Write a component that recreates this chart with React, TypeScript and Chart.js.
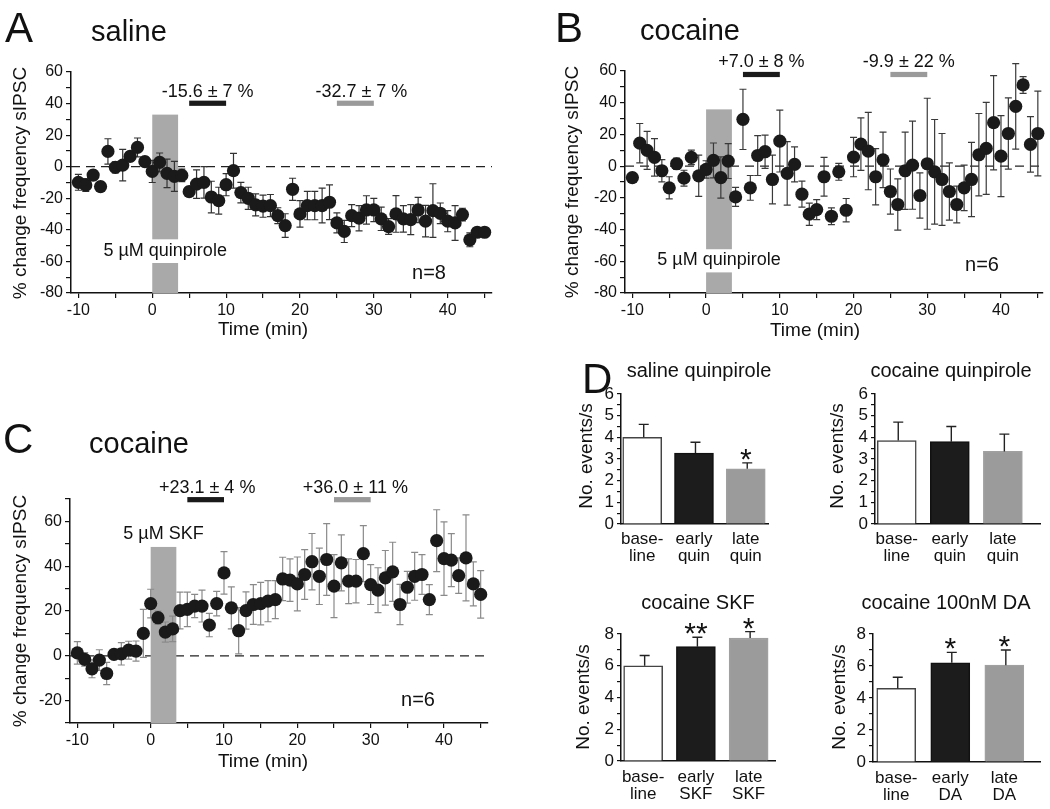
import React, { useEffect, useRef } from 'react';
import { Chart, registerables } from 'chart.js';

Chart.register(...registerables);

const FONT = '"Liberation Sans", Arial, Helvetica, sans-serif';
Chart.defaults.font.family = FONT;
Chart.defaults.color = '#111';

// ---------------- data ----------------
const minutes = [-10, -9, -8, -7, -6, -5, -4, -3, -2, -1, 0, 1, 2, 3, 4, 5, 6, 7, 8, 9, 10, 11, 12, 13, 14, 15, 16, 17, 18, 19, 20, 21, 22, 23, 24, 25, 26, 27, 28, 29, 30, 31, 32, 33, 34, 35, 36, 37, 38, 39, 40, 41, 42, 43, 44, 45];

const salineQuin = [-9.9, -11.6, -5.3, -12.6, 9.7, -0.4, 1.0, 6.5, 12.2, 3.2, -3.0, 2.7, -4.2, -6.1, -5.5, -15.8, -11.0, -9.9, -19.2, -21.5, -11.4, -2.5, -16.4, -20.0, -24.2, -25.0, -24.6, -31.0, -37.3, -14.3, -29.9, -24.6, -24.6, -24.6, -22.5, -35.6, -41.0, -31.0, -32.6, -27.4, -27.4, -33.0, -37.9, -29.9, -33.0, -33.5, -27.4, -34.5, -27.8, -29.5, -34.5, -35.6, -30.3, -46.3, -41.5, -41.5];
const salineQuinSem = [5, 4, 3, 3, 8, 3.5, 10, 3, 6, 3, 7, 6, 9, 9.5, 4, 3, 9, 10, 10, 8.5, 7, 11, 6.5, 7, 7, 7, 7, 5, 7.5, 7, 8.4, 9, 9, 11, 11, 6.3, 7, 7, 8, 9, 7.4, 7.4, 5, 11.6, 8.4, 9.5, 8, 10, 17, 6.5, 6.7, 11, 4, 4.4, 2.5, 2.5];

const cocaineQuin = [-7.2, 14.5, 9.9, 5.5, -2.9, -13.7, 1.5, -7.6, 5.5, -6.1, -2.1, 3.6, -7.2, 3.2, -19.4, 29.5, -13.7, 6.7, 9.1, -8.4, 15.8, -4.6, 1.1, -17.7, -30.3, -27.4, -6.7, -31.6, -3.6, -27.8, 5.7, 13.9, 9.5, -6.7, 4.0, -16.0, -24.2, -2.9, 0.6, -18.5, 1.5, -3.6, -8.4, -16.0, -24.2, -13.7, -8.4, 7.2, 11.2, 27.4, 6.3, 20.6, 37.7, 51.2, 13.7, 20.6];
const cocaineQuinSem = [3, 12.4, 12, 11.8, 7, 7, 3.6, 5, 4.6, 13, 5.5, 11, 13, 11, 6, 19, 7.8, 12.6, 10.5, 15.4, 19.5, 20, 11, 8.2, 7, 6.3, 12.2, 5.3, 5.3, 7.4, 12.4, 16.6, 24.4, 17.7, 17.5, 14.2, 16.2, 24.4, 27.8, 14.3, 41.3, 33, 29, 18, 11.6, 14.3, 23.4, 26, 29, 29.7, 25.5, 22.5, 27, 5.3, 17.5, 26.7];

const cocaineSkf = [1.3, -1.6, -5.8, -1.9, -7.9, 0.6, 0.9, 2.5, 2.1, 10.0, 23.3, 17.0, 10.6, 12.0, 20.2, 20.7, 22.2, 22.2, 13.7, 23.3, 37.0, 21.4, 11.2, 20.2, 22.9, 23.3, 24.4, 25.1, 34.3, 33.8, 32.1, 36.3, 42.0, 35.5, 43.0, 31.1, 41.5, 33.3, 33.3, 45.6, 31.8, 29.3, 34.8, 37.5, 22.9, 30.6, 35.5, 36.3, 25.1, 51.4, 43.4, 42.7, 35.8, 43.7, 32.1, 27.4];
const cocaineSkfSem = [5, 3, 4, 4.6, 5, 2, 5, 4, 4.5, 10.7, 6.4, 3, 4.5, 5.7, 8.2, 7.7, 5.2, 7.1, 5.2, 5.5, 9.5, 9.4, 10.3, 8.3, 8.9, 9.5, 9.2, 8.5, 9.7, 9.5, 12, 11.1, 12.6, 12.6, 16, 14.1, 12.5, 10, 9.7, 12.5, 8.9, 10, 12.2, 13.2, 9, 7.1, 10.7, 8.9, 6.7, 13.8, 16.4, 11.8, 7.9, 19.2, 9.8, 10.6];

const timeTicks = [-10, -5, 0, 5, 10, 15, 20, 25, 30, 35, 40, 45];
const pctTicksAB = [-80, -70, -60, -50, -40, -30, -20, -10, 0, 10, 20, 30, 40, 50, 60];
const pctTicksC = [-30, -20, -10, 0, 10, 20, 30, 40, 50, 60, 70];

const quinLabels = [['base-', 'line'], ['early', 'quin'], ['late', 'quin']];
const skfLabels = [['base-', 'line'], ['early', 'SKF'], ['late', 'SKF']];
const daLabels = [['base-', 'line'], ['early', 'DA'], ['late', 'DA']];

const salineQuinBars = [4.0, 3.27, 2.55];
const salineQuinBarsSem = [0.6, 0.5, 0.27];
const salineQuinSig = ['', '', '*'];
const cocaineQuinBars = [3.85, 3.8, 3.35];
const cocaineQuinBarsSem = [0.85, 0.7, 0.8];
const cocaineQuinSig = ['', '', ''];
const cocaineSkfBars = [6.0, 7.2, 7.75];
const cocaineSkfBarsSem = [0.65, 0.6, 0.4];
const cocaineSkfSig = ['', '**', '*'];
const cocaineDaBars = [4.6, 6.2, 6.05];
const cocaineDaBarsSem = [0.7, 0.65, 0.95];
const cocaineDaSig = ['', '*', '*'];

const barTicks6 = [0, 0.5, 1, 1.5, 2, 2.5, 3, 3.5, 4, 4.5, 5, 5.5, 6];
const barTicks8 = [0, 1, 2, 3, 4, 5, 6, 7, 8];

// ---------------- helpers ----------------
type Box = { left: number; top: number; width: number; height: number };
type Area = { left: number; top: number; right: number; bottom: number };
type Txt = { t: string; x: number; y: number; size: number; align?: CanvasTextAlign; base?: CanvasTextBaseline; rot?: boolean };

function drawTexts(ctx: CanvasRenderingContext2D, texts: Txt[], box: Box) {
  ctx.save();
  ctx.fillStyle = '#111';
  for (const tx of texts) {
    ctx.font = `${tx.size}px ${FONT}`;
    ctx.textAlign = tx.align || 'center';
    ctx.textBaseline = tx.base || 'middle';
    const x = tx.x - box.left;
    const y = tx.y - box.top;
    if (tx.rot) {
      ctx.save();
      ctx.translate(x, y);
      ctx.rotate(-Math.PI / 2);
      ctx.fillText(tx.t, 0, 0);
      ctx.restore();
    } else {
      ctx.fillText(tx.t, x, y);
    }
  }
  ctx.restore();
}

type Period = { x0: number; x1: number; y: number; color: string; text: string; dx: number; gap: number };
type Drug = { x0: number; x1: number; top: number; gap?: [number, number]; label: string; labelY: number };

type TimePanel = {
  box: Box; area: Area;
  xMin: number; xMax: number; yMin: number; yMax: number;
  yTicks: number[]; yLabelEvery: number;
  values: number[]; errors: number[]; errColor: string;
  drug: Drug; periods: Period[]; texts: Txt[];
};

function timeConfig(p: TimePanel): any {
  const decor = {
    id: 'timeDecor',
    beforeDatasetsDraw(chart: any) {
      const { ctx, chartArea } = chart;
      const xs = chart.scales.x;
      const ys = chart.scales.y;
      ctx.save();
      // dashed zero line
      const yz = ys.getPixelForValue(0);
      ctx.strokeStyle = '#222';
      ctx.lineWidth = 1.3;
      ctx.setLineDash([9, 6]);
      ctx.beginPath();
      ctx.moveTo(chartArea.left, yz);
      ctx.lineTo(chartArea.right, yz);
      ctx.stroke();
      ctx.setLineDash([]);
      // drug application bar
      const dx0 = xs.getPixelForValue(p.drug.x0);
      const dx1 = xs.getPixelForValue(p.drug.x1);
      const segs: [number, number][] = p.drug.gap
        ? [[p.drug.top, p.drug.gap[0]], [p.drug.gap[1], p.yMin]]
        : [[p.drug.top, p.yMin]];
      ctx.fillStyle = '#a9a9a9';
      for (const [a, b] of segs) {
        const ya = ys.getPixelForValue(a);
        const yb = ys.getPixelForValue(b);
        ctx.fillRect(dx0, ya, dx1 - dx0, yb - ya);
      }
      // error bars
      ctx.strokeStyle = p.errColor;
      ctx.lineWidth = 1.2;
      p.values.forEach((v, i) => {
        const x = xs.getPixelForValue(minutes[i]);
        const yt = ys.getPixelForValue(v + p.errors[i]);
        const yb = ys.getPixelForValue(v - p.errors[i]);
        ctx.beginPath();
        ctx.moveTo(x, yt); ctx.lineTo(x, yb);
        ctx.moveTo(x - 3.5, yt); ctx.lineTo(x + 3.5, yt);
        ctx.moveTo(x - 3.5, yb); ctx.lineTo(x + 3.5, yb);
        ctx.stroke();
      });
      ctx.restore();
    },
    afterDraw(chart: any) {
      const { ctx } = chart;
      const xs = chart.scales.x;
      const ys = chart.scales.y;
      ctx.save();
      // period bars and their labels
      for (const pr of p.periods) {
        const x0 = xs.getPixelForValue(pr.x0);
        const x1 = xs.getPixelForValue(pr.x1);
        const y = ys.getPixelForValue(pr.y);
        ctx.fillStyle = pr.color;
        ctx.fillRect(x0, y - 2.6, x1 - x0, 5.2);
        ctx.fillStyle = '#111';
        ctx.font = `18px ${FONT}`;
        ctx.textAlign = 'center';
        ctx.textBaseline = 'middle';
        ctx.fillText(pr.text, (x0 + x1) / 2 + pr.dx, y - pr.gap);
      }
      // drug label
      ctx.font = `18px ${FONT}`;
      ctx.fillStyle = '#111';
      ctx.textAlign = 'center';
      ctx.textBaseline = 'middle';
      ctx.fillText(p.drug.label, xs.getPixelForValue((p.drug.x0 + p.drug.x1) / 2), ys.getPixelForValue(p.drug.labelY));
      ctx.restore();
      drawTexts(ctx, p.texts, p.box);
    },
  };
  const a = p.area;
  const b = p.box;
  return {
    type: 'scatter',
    data: {
      datasets: [{
        data: minutes.map((m, i) => ({ x: m, y: p.values[i] })),
        pointRadius: 6.6,
        pointBackgroundColor: '#1a1a1a',
        pointBorderWidth: 0,
        showLine: false,
        clip: false,
      }],
    },
    options: {
      responsive: false,
      animation: false,
      events: [],
      layout: { padding: { top: a.top - b.top, right: b.left + b.width - a.right, left: 0, bottom: 0 } },
      plugins: { legend: { display: false }, tooltip: { enabled: false }, title: { display: false } },
      scales: {
        x: {
          type: 'linear', min: p.xMin, max: p.xMax,
          afterBuildTicks: (s: any) => { s.ticks = timeTicks.map((value) => ({ value })); },
          afterFit: (s: any) => { s.height = b.top + b.height - a.bottom; },
          grid: { drawOnChartArea: false, drawTicks: true, tickLength: 5, color: '#111', lineWidth: 1.2 },
          border: { display: true, color: '#111', width: 1.5 },
          ticks: { autoSkip: false, maxRotation: 0, padding: 3, color: '#111', font: { size: 16, family: FONT },
            callback: (v: number) => (v % 10 === 0 ? String(v) : '') },
        },
        y: {
          type: 'linear', min: p.yMin, max: p.yMax,
          afterBuildTicks: (s: any) => { s.ticks = p.yTicks.map((value) => ({ value })); },
          afterFit: (s: any) => { s.width = a.left - b.left; },
          grid: { drawOnChartArea: false, drawTicks: true, tickLength: 5, color: '#111', lineWidth: 1.2 },
          border: { display: true, color: '#111', width: 1.5 },
          ticks: { autoSkip: false, padding: 3, color: '#111', font: { size: 16, family: FONT },
            callback: (v: number) => (v % p.yLabelEvery === 0 ? String(v) : '') },
        },
      },
    },
    plugins: [decor],
  };
}

type BarPanel = {
  box: Box; area: Area; xMin: number; xMax: number; yMax: number;
  yTicks: number[]; yLabelEvery: number; labelPad: number;
  values: number[]; errors: number[]; sig: string[]; labels: string[][];
  texts: Txt[];
};

function barConfig(p: BarPanel): any {
  const decor = {
    id: 'barDecor',
    afterDatasetsDraw(chart: any) {
      const { ctx } = chart;
      const xs = chart.scales.x;
      const ys = chart.scales.y;
      ctx.save();
      ctx.strokeStyle = '#222';
      ctx.lineWidth = 1.4;
      p.values.forEach((v, i) => {
        const x = xs.getPixelForValue(i) + 1.5;
        const y0 = ys.getPixelForValue(v);
        const yt = ys.getPixelForValue(v + p.errors[i]);
        ctx.beginPath();
        ctx.moveTo(x, y0); ctx.lineTo(x, yt);
        ctx.moveTo(x - 5, yt); ctx.lineTo(x + 5, yt);
        ctx.stroke();
        if (p.sig[i]) {
          ctx.fillStyle = '#111';
          ctx.font = `30px ${FONT}`;
          ctx.textAlign = 'center';
          ctx.textBaseline = 'alphabetic';
          ctx.fillText(p.sig[i], xs.getPixelForValue(i), yt + 6);
        }
      });
      ctx.restore();
    },
    afterDraw(chart: any) {
      drawTexts(chart.ctx, p.texts, p.box);
    },
  };
  const a = p.area;
  const b = p.box;
  return {
    type: 'bar',
    data: {
      datasets: [{
        data: p.values.map((v, i) => ({ x: i, y: v })),
        backgroundColor: ['#ffffff', '#1c1c1c', '#9b9b9b'],
        borderColor: ['#444444', '#111111', '#a0a0a0'],
        borderWidth: 1.5,
        barThickness: 39,
      }],
    },
    options: {
      responsive: false,
      animation: false,
      events: [],
      layout: { padding: { top: a.top - b.top, right: b.left + b.width - a.right, left: 0, bottom: 0 } },
      plugins: { legend: { display: false }, tooltip: { enabled: false }, title: { display: false } },
      scales: {
        x: {
          type: 'linear', min: p.xMin, max: p.xMax, offset: false,
          afterBuildTicks: (s: any) => { s.ticks = p.labels.map((_, i) => ({ value: i })); },
          afterFit: (s: any) => { s.height = b.top + b.height - a.bottom; },
          grid: { display: false },
          border: { display: true, color: '#111', width: 1.5 },
          ticks: { autoSkip: false, maxRotation: 0, padding: p.labelPad, color: '#111', font: { size: 17, family: FONT, lineHeight: 1.0 },
            callback: (v: number) => p.labels[v] || '' },
        },
        y: {
          type: 'linear', min: 0, max: p.yMax,
          afterBuildTicks: (s: any) => { s.ticks = p.yTicks.map((value) => ({ value })); },
          afterFit: (s: any) => { s.width = a.left - b.left; },
          grid: { drawOnChartArea: false, drawTicks: true, tickLength: 4, color: '#111', lineWidth: 1.2 },
          border: { display: true, color: '#111', width: 1.5 },
          ticks: { autoSkip: false, padding: 3, color: '#111', font: { size: 17, family: FONT },
            callback: (v: number) => (v % p.yLabelEvery === 0 ? String(v) : '') },
        },
      },
    },
    plugins: [decor],
  };
}

// ---------------- panels ----------------
const panelA: TimePanel = {
  box: { left: 0, top: 0, width: 500, height: 345 },
  area: { left: 71, top: 72, right: 492, bottom: 293 },
  xMin: -11, xMax: 46, yMin: -80, yMax: 60, yTicks: pctTicksAB, yLabelEvery: 20,
  values: salineQuin, errors: salineQuinSem, errColor: '#333',
  drug: { x0: 0, x1: 3.5, top: 33, gap: [-46, -61], label: '5 µM quinpirole', labelY: -53.5 },
  periods: [
    { x0: 5, x1: 10, y: 40.2, color: '#1a1a1a', text: '-15.6 ± 7 %', dx: 0, gap: 11 },
    { x0: 25, x1: 30, y: 40.2, color: '#9a9a9a', text: '-32.7 ± 7 %', dx: 6, gap: 11 },
  ],
  texts: [
    { t: 'A', x: 5, y: 42, size: 42, align: 'left', base: 'alphabetic' },
    { t: 'saline', x: 91, y: 41, size: 29, align: 'left', base: 'alphabetic' },
    { t: '% change frequency sIPSC', x: 21, y: 183, size: 19, rot: true },
    { t: 'Time (min)', x: 263, y: 330, size: 19 },
    { t: 'n=8', x: 429, y: 273, size: 20 },
  ],
};

const panelB: TimePanel = {
  box: { left: 540, top: 0, width: 510, height: 345 },
  area: { left: 625, top: 71, right: 1043, bottom: 293 },
  xMin: -11, xMax: 45.7, yMin: -80, yMax: 60, yTicks: pctTicksAB, yLabelEvery: 20,
  values: cocaineQuin, errors: cocaineQuinSem, errColor: '#3a3a3a',
  drug: { x0: 0, x1: 3.5, top: 35.8, gap: [-52.4, -67], label: '5 µM quinpirole', labelY: -59.5 },
  periods: [
    { x0: 5, x1: 10, y: 57.8, color: '#1a1a1a', text: '+7.0 ± 8 %', dx: 0, gap: 12.5 },
    { x0: 25, x1: 30, y: 57.8, color: '#9a9a9a', text: '-9.9 ± 22 %', dx: 0, gap: 12.5 },
  ],
  texts: [
    { t: 'B', x: 555, y: 42, size: 42, align: 'left', base: 'alphabetic' },
    { t: 'cocaine', x: 640, y: 40, size: 29, align: 'left', base: 'alphabetic' },
    { t: '% change frequency sIPSC', x: 573, y: 182, size: 19, rot: true },
    { t: 'Time (min)', x: 815, y: 331, size: 19 },
    { t: 'n=6', x: 982, y: 265, size: 20 },
  ],
};

const panelC: TimePanel = {
  box: { left: 0, top: 380, width: 500, height: 400 },
  area: { left: 70, top: 499, right: 488, bottom: 723 },
  xMin: -11, xMax: 46, yMin: -30, yMax: 70, yTicks: pctTicksC, yLabelEvery: 20,
  values: cocaineSkf, errors: cocaineSkfSem, errColor: '#8a8a8a',
  drug: { x0: 0, x1: 3.5, top: 48.6, label: '5 µM SKF', labelY: 54.5 },
  periods: [
    { x0: 5, x1: 10, y: 69.7, color: '#1a1a1a', text: '+23.1 ± 4 %', dx: 1.5, gap: 12 },
    { x0: 25, x1: 30, y: 69.7, color: '#9a9a9a', text: '+36.0 ± 11 %', dx: 3, gap: 12 },
  ],
  texts: [
    { t: 'C', x: 3, y: 453, size: 42, align: 'left', base: 'alphabetic' },
    { t: 'cocaine', x: 89, y: 453, size: 29, align: 'left', base: 'alphabetic' },
    { t: '% change frequency sIPSC', x: 21, y: 611, size: 19, rot: true },
    { t: 'Time (min)', x: 263, y: 762, size: 19 },
    { t: 'n=6', x: 418, y: 700, size: 20 },
  ],
};

const panelD1: BarPanel = {
  box: { left: 560, top: 350, width: 225, height: 228 },
  area: { left: 621, top: 394, right: 768, bottom: 524 },
  xMin: -0.41, xMax: 2.43, yMax: 6, yTicks: barTicks6, yLabelEvery: 1, labelPad: -1,
  values: salineQuinBars, errors: salineQuinBarsSem, sig: salineQuinSig, labels: quinLabels,
  texts: [
    { t: 'D', x: 582, y: 393, size: 42, align: 'left', base: 'alphabetic' },
    { t: 'saline quinpirole', x: 699, y: 371, size: 20 },
    { t: 'No. events/s', x: 587, y: 456, size: 19, rot: true },
  ],
};

const panelD2: BarPanel = {
  box: { left: 800, top: 350, width: 250, height: 228 },
  area: { left: 875, top: 394, right: 1040, bottom: 524 },
  xMin: -0.41, xMax: 2.7, yMax: 6, yTicks: barTicks6, yLabelEvery: 1, labelPad: -1,
  values: cocaineQuinBars, errors: cocaineQuinBarsSem, sig: cocaineQuinSig, labels: quinLabels,
  texts: [
    { t: 'cocaine quinpirole', x: 951, y: 371, size: 20 },
    { t: 'No. events/s', x: 838, y: 456, size: 19, rot: true },
  ],
};

const panelD3: BarPanel = {
  box: { left: 560, top: 580, width: 225, height: 229 },
  area: { left: 621, top: 634, right: 775, bottom: 761 },
  xMin: -0.42, xMax: 2.5, yMax: 8, yTicks: barTicks8, yLabelEvery: 2, labelPad: 0,
  values: cocaineSkfBars, errors: cocaineSkfBarsSem, sig: cocaineSkfSig, labels: skfLabels,
  texts: [
    { t: 'cocaine SKF', x: 698, y: 603, size: 20 },
    { t: 'No. events/s', x: 584, y: 697, size: 19, rot: true },
  ],
};

const panelD4: BarPanel = {
  box: { left: 800, top: 580, width: 250, height: 229 },
  area: { left: 873, top: 634, right: 1040, bottom: 762 },
  xMin: -0.43, xMax: 2.66, yMax: 8, yTicks: barTicks8, yLabelEvery: 2, labelPad: 0,
  values: cocaineDaBars, errors: cocaineDaBarsSem, sig: cocaineDaSig, labels: daLabels,
  texts: [
    { t: 'cocaine 100nM DA', x: 946, y: 603, size: 20 },
    { t: 'No. events/s', x: 840, y: 697, size: 19, rot: true },
  ],
};

function ChartCanvas({ box, build }: { box: Box; build: () => any }) {
  const ref = useRef<HTMLCanvasElement>(null);
  useEffect(() => {
    const chart = new Chart(ref.current as HTMLCanvasElement, build());
    return () => chart.destroy();
  }, []);
  return (
    <canvas
      ref={ref}
      width={box.width}
      height={box.height}
      style={{ position: 'absolute', left: box.left, top: box.top, width: box.width, height: box.height }}
    />
  );
}

export default function App() {
  return (
    <div style={{ position: 'absolute', left: 0, top: 0, width: 1050, height: 809, background: '#ffffff', overflow: 'hidden' }}>
      <ChartCanvas box={panelA.box} build={() => timeConfig(panelA)} />
      <ChartCanvas box={panelB.box} build={() => timeConfig(panelB)} />
      <ChartCanvas box={panelC.box} build={() => timeConfig(panelC)} />
      <ChartCanvas box={panelD1.box} build={() => barConfig(panelD1)} />
      <ChartCanvas box={panelD2.box} build={() => barConfig(panelD2)} />
      <ChartCanvas box={panelD3.box} build={() => barConfig(panelD3)} />
      <ChartCanvas box={panelD4.box} build={() => barConfig(panelD4)} />
    </div>
  );
}
